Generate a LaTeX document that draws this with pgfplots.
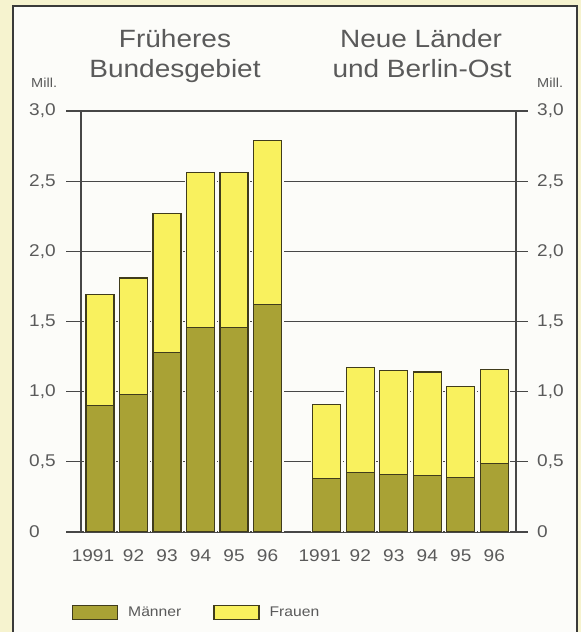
\documentclass[border=0pt]{standalone}
\usepackage{fontspec}
\setmainfont{Liberation Sans}[FakeStretch=1.12]
\usepackage{pgfplots}
\pgfplotsset{compat=1.18}
\usepackage{pgfplotstable}
\definecolor{bgout}{HTML}{F6F3CF}
\definecolor{panel}{HTML}{FCFCF9}
\definecolor{frameC}{HTML}{3A3A3A}
\definecolor{gridC}{HTML}{474747}
\definecolor{txt}{HTML}{5A5A5A}
\definecolor{maenner}{HTML}{A9A235}
\definecolor{frauen}{HTML}{F9F15E}
\definecolor{barEdge}{HTML}{403C1C}

\pgfplotstableread{
x m f
0 0.90 0.79
1 0.98 0.83
2 1.28 0.99
3 1.46 1.10
4 1.46 1.10
5 1.62 1.17
6.77 0.38 0.53
7.77 0.425 0.745
8.77 0.41 0.74
9.77 0.40 0.74
10.77 0.39 0.65
11.77 0.49 0.67
}\data

\pgfplotsset{
  common/.style={
    at={(66pt,100pt)}, anchor=south west, scale only axis,
    width=462pt, height=421pt,
    xmin=-1.015, xmax=12.776, ymin=0, ymax=3,
    ybar stacked, bar width=28pt,
    axis line style={draw=none},
    major tick length=0pt,
    ytick={0,0.5,1,1.5,2,2.5,3},
    yticklabels={0,{0,5},{1,0},{1,5},{2,0},{2,5},{3,0}},
    tick label style={font=\fontsize{17}{20}\selectfont, text=txt},
  }
}

\begin{document}
\begin{tikzpicture}[x=1pt,y=1pt]
\useasboundingbox (0,0) rectangle (581,632);
\fill[bgout] (0,0) rectangle (581,632);
\filldraw[fill=panel, draw=frameC, line width=1.6pt] (13,-10) rectangle (577,626);

\begin{scope}[every node/.style={text=txt, anchor=base, inner sep=0pt}]
\node[font=\fontsize{25}{30}\selectfont] at (175,584) {Früheres};
\node[font=\fontsize{25}{30}\selectfont] at (175,554) {Bundesgebiet};
\node[font=\fontsize{25}{30}\selectfont] at (421,584) {Neue Länder};
\node[font=\fontsize{25}{30}\selectfont] at (422,554) {und Berlin-Ost};
\node[font=\fontsize{13}{15}\selectfont, anchor=base west] at (31,544) {Mill.};
\node[font=\fontsize{13}{15}\selectfont, anchor=base west] at (537,544) {Mill.};
\end{scope}

% axis 1: grid, left labels, halo
\begin{axis}[common,
  ymajorgrids, grid style={gridC, line width=1.3pt},
  xtick=\empty,
  extra x ticks={-0.567,12.42}, extra x tick labels={},
  extra x tick style={grid=major, major tick length=0pt},
  ytick pos=left,
  yticklabel style={anchor=west, inner sep=0pt, xshift=-37pt},
]
\addplot[fill=panel, draw=panel, line width=4pt] table[x=x,y=m]{\data};
\addplot[fill=panel, draw=panel, line width=4pt] table[x=x,y=f]{\data};
\end{axis}

% axis 2: bars, right labels, x labels, legend
\begin{axis}[common,
  ytick pos=right, yticklabel pos=right,
  yticklabel style={anchor=west, inner sep=0pt, xshift=9pt},
  xtick={0,1,2,3,4,5,6.77,7.77,8.77,9.77,10.77,11.77},
  xticklabels={\hspace*{-14pt}1991,92,93,94,95,96,\hspace*{-14pt}1991,92,93,94,95,96},
  xticklabel style={anchor=base, inner sep=0pt, yshift=-30pt},
  legend columns=2,
  legend image code/.code={\draw[#1, line width=1.2pt] (0pt,-7pt) rectangle (45pt,7pt);},
  legend style={at={(rel axis cs:0.013,-0.192)}, anchor=west, draw=none, fill=none,
    inner sep=0pt, outer sep=0pt,
    font=\fontsize{14}{16}\selectfont, text=txt,
    /tikz/every odd column/.append style={column sep=8pt},
    /tikz/every even column/.append style={column sep=30pt}},
]
\addplot[fill=maenner, draw=barEdge, line width=1.1pt] table[x=x,y=m]{\data};
\addlegendentry{Männer}
\addplot[fill=frauen, draw=barEdge, line width=1.1pt] table[x=x,y=f]{\data};
\addlegendentry{Frauen}
\end{axis}
\end{tikzpicture}
\end{document}
